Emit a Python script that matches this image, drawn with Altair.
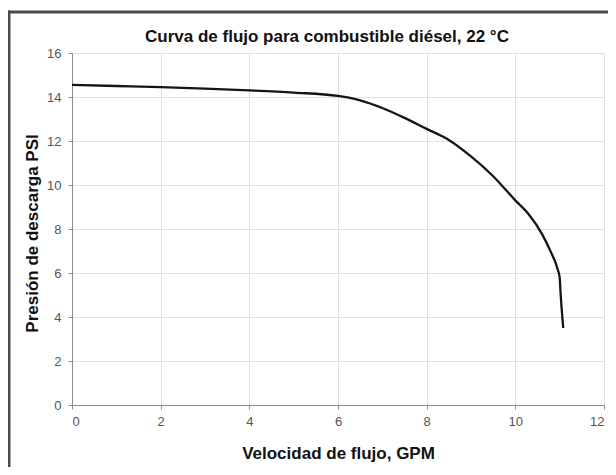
import altair as alt
import pandas as pd

# Flow curve
flow_gpm = [0, 1, 2, 3, 4, 5, 6, 6.5, 7, 7.5, 8, 8.5, 9, 9.5, 10, 10.3, 10.6, 10.8, 10.95, 11.0, 11.02, 11.05, 11.08]
pressure_psi = [14.55, 14.5, 14.45, 14.38, 14.3, 14.2, 14.05, 13.85, 13.5, 13.05, 12.55, 12.05, 11.3, 10.4, 9.3, 8.67, 7.78, 6.96, 6.2, 5.8, 5.1, 4.25, 3.5]

x_ticks = [0, 2, 4, 6, 8, 10, 12]
y_ticks = [0, 2, 4, 6, 8, 10, 12, 14, 16]

title_text = "Curva de flujo para combustible diésel, 22 °C"
x_title = "Velocidad de flujo, GPM"
y_title = "Presión de descarga PSI"

FONT = "Liberation Sans"

axis_style = dict(
    labelFont=FONT, labelFontSize=13, labelColor="#555555",
    titleFont=FONT, titleFontSize=17, titleFontWeight="bold", titleColor="#111111",
    gridColor="#e0e0e0", gridWidth=1,
    domainColor="#8c8c8c", tickColor="#8c8c8c", tickSize=4, grid=True,
)

df = pd.DataFrame({"x": flow_gpm, "y": pressure_psi})

x_enc = alt.X(
    "x:Q",
    scale=alt.Scale(domain=[0, 12], nice=False),
    axis=alt.Axis(values=x_ticks, title=x_title, labelPadding=6, titlePadding=17, **axis_style),
)
y_enc = alt.Y(
    "y:Q",
    scale=alt.Scale(domain=[0, 16], nice=False),
    axis=alt.Axis(
        values=y_ticks, title=y_title, labelPadding=7,
        titleX=-40, titleY=180, titleAlign="center",
        titleBaseline="middle", titleAngle=270, **axis_style,
    ),
)

line = alt.Chart(df).mark_line(
    color="#151515", strokeWidth=2.3, interpolate="monotone"
).encode(x=x_enc, y=y_enc)

one = pd.DataFrame({"k": [0]})
frame_top = alt.Chart(one).mark_rule(color="#4a4a4a", strokeWidth=3).encode(
    x=alt.value(-64.5), x2=alt.value(543), y=alt.value(-41),
)
frame_left = alt.Chart(one).mark_rule(color="#4a4a4a", strokeWidth=3).encode(
    x=alt.value(-63), y=alt.value(-42.5), y2=alt.value(416),
)

chart = alt.layer(frame_top, frame_left, line).properties(
    width=532,
    height=352,
    padding={"left": 64, "top": 45, "right": 4, "bottom": 62},
    autosize=alt.AutoSizeParams(type="none"),
    title=alt.TitleParams(
        title_text, fontSize=17, font=FONT, fontWeight="bold", color="#111",
        anchor="middle", frame="group", dx=-11, offset=-37,
    ),
).configure_view(
    stroke="#c8c8c8", strokeWidth=1
).configure(background="white")

chart.save("out.html", embed_options={"renderer": "svg", "actions": False})
